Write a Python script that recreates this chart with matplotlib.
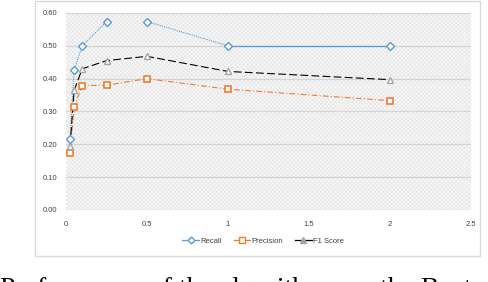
import numpy as np
import matplotlib
matplotlib.use('Agg')
import matplotlib.pyplot as plt
from matplotlib.patches import Rectangle
from matplotlib.lines import Line2D

# data
x_vals = [0.025, 0.05, 0.1, 0.25, 0.5, 1.0, 2.0]
recall = [0.215, 0.427, 0.50, 0.574, 0.574, 0.50, 0.50]
precision = [0.174, 0.315, 0.379, 0.38, 0.40, 0.368, 0.333]
f1_score = [0.195, 0.364, 0.43, 0.455, 0.468, 0.422, 0.397]
y_ticks = [0.0, 0.1, 0.2, 0.3, 0.4, 0.5, 0.6]
x_ticks = [0, 0.5, 1, 1.5, 2, 2.5]
x_tick_labels = ['0', '0.5', '1', '1.5', '2', '2.5']
caption = 'Performance of the algorithms on the Boston'

blue = '#5b9bd5'
orange = '#ed7d31'
gray = '#a5a5a5'
txt = '#404040'

plt.rcParams['font.family'] = 'Liberation Sans'
plt.rcParams['hatch.linewidth'] = 0.5

fig = plt.figure(figsize=(4.88, 2.82), dpi=100)

# outer chart frame
fig.patches.append(Rectangle((35 / 488, 1 - 256 / 282), 445 / 488, 255 / 282,
                             transform=fig.transFigure, facecolor='white',
                             edgecolor='#d9d9d9', lw=1.0, zorder=-5))

ax = fig.add_axes([66 / 488, 1 - 210 / 282, 405 / 488, 197 / 282])
ax.set_facecolor('none')
# dotted texture of the plot area
ax.add_patch(Rectangle((0, 0), 1, 1, transform=ax.transAxes, facecolor='#f7f7f7',
                       hatch='xxxxxxxx', edgecolor='#e6e6e6', lw=0, zorder=0))

for s in ax.spines.values():
    s.set_visible(False)

ax.set_xlim(0, 2.5)
ax.set_ylim(0, 0.6)
ax.set_yticks(y_ticks)
ax.set_yticklabels([f'{v:.2f}' for v in y_ticks])
ax.set_xticks(x_ticks)
ax.set_xticklabels(x_tick_labels)
ax.tick_params(length=0, labelsize=5.5, labelcolor=txt)
ax.tick_params(axis='x', pad=8)
ax.tick_params(axis='y', pad=6)
ax.grid(axis='y', color='#d4d4d4', lw=0.9)
ax.set_axisbelow(True)

# recall line has a gap between 0.25 and 0.5, last segment solid
ax.plot(x_vals[:4], recall[:4], color=blue, lw=0.8, ls=(0, (1, 1)), zorder=3)
ax.plot(x_vals[4:6], recall[4:6], color=blue, lw=0.8, ls=(0, (1, 1)), zorder=3)
ax.plot(x_vals[5:], recall[5:], color=blue, lw=0.9, ls='-', zorder=3)
ax.plot(x_vals, recall, ls='none', marker='D', ms=4, mfc='white', mec=blue,
        mew=1.0, zorder=5)

ax.plot(x_vals, precision, color=orange, lw=0.8, ls=(0, (5, 2, 1, 2)), zorder=3)
ax.plot(x_vals, precision, ls='none', marker='s', ms=5, mfc='white', mec=orange,
        mew=1.2, zorder=5)

ax.plot(x_vals, f1_score, color='black', lw=0.8, ls=(0, (7, 3)), zorder=3)
ax.plot(x_vals, f1_score, ls='none', marker='^', ms=5, mfc='white', mec=gray,
        mew=1.0, zorder=5)

handles = [
    Line2D([], [], color=blue, lw=0.9, marker='D', ms=3.5, mfc='white', mec=blue),
    Line2D([], [], color=orange, lw=0.9, marker='s', ms=4, mfc='white', mec=orange),
    Line2D([], [], color='black', lw=0.9, marker='^', ms=4, mfc=gray, mec=gray),
]
fig.legend(handles, ['Recall', 'Precision', 'F1 Score'], loc='center',
           bbox_to_anchor=(263 / 488, 1 - 241 / 282), ncol=3, frameon=False,
           fontsize=5.5, labelcolor=txt, handlelength=2.2, handletextpad=0.1,
           columnspacing=1.6)

fig.text(0.0, 1 - 296 / 282, caption, fontsize=20, family='Liberation Serif',
         va='baseline', ha='left', color='black')

fig.savefig('out.png', dpi=100)
